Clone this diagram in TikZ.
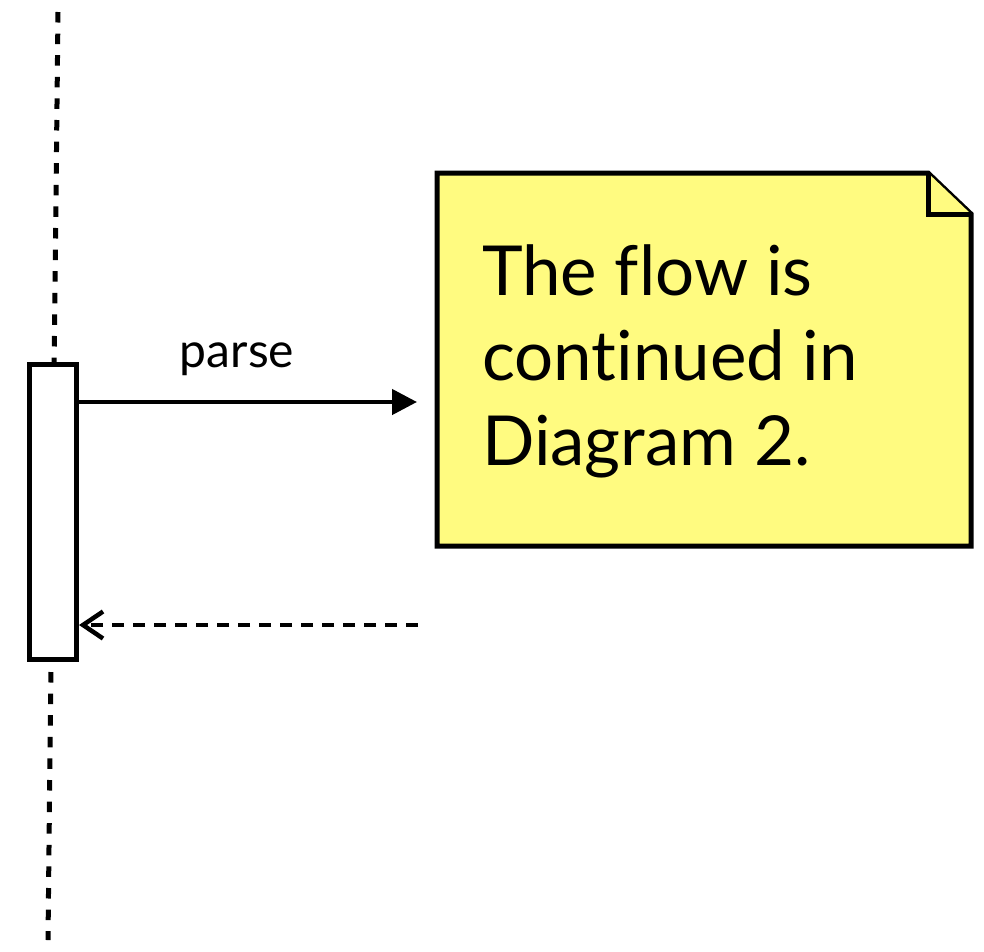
\documentclass[tikz,border=0pt]{standalone}
\usepackage{fontspec}
\setmainfont[Ligatures=NoCommon]{Lato}
\usetikzlibrary{arrows.meta}
\definecolor{noteyellow}{RGB}{255,251,128}
\tikzset{
  lifeline/.style={line width=5pt, dash pattern=on 10.5pt off 11.1pt},
  actbox/.style={draw, line width=5pt, fill=white, inner sep=0pt, minimum width=47pt, minimum height=295pt},
  msg/.style={line width=4.5pt, -{Triangle[length=25pt,width=25pt]}},
  ret/.style={line width=4.5pt, dash pattern=on 12pt off 9pt, -{Straight Barb[length=20pt,width=27pt,line width=4.5pt]}},
  notetext/.style={inner sep=0pt, align=left, font=\fontsize{69}{85}\selectfont},
  lbl/.style={inner sep=0pt, font=\fontsize{48}{56}\selectfont}
}
\begin{document}
\begin{tikzpicture}[x=1pt,y=-1pt]
\useasboundingbox (0,0) rectangle (984,951);
% lifeline
\coordinate (lt) at (58,12);
\coordinate (ltb) at (54.2,362);
\coordinate (lbt) at (50.9,672);
\coordinate (lb) at (48,940);
\draw[lifeline] (lt) -- (ltb);
\draw[lifeline] (lbt) -- (lb);
% activation box
\node[actbox] (act) at (53,512) {};
% note
\coordinate (n1) at (437,173);
\coordinate (n2) at (928,173);
\coordinate (n3) at (971,214);
\coordinate (n4) at (971,546);
\coordinate (n5) at (437,546);
\filldraw[fill=noteyellow, line width=5pt, line join=miter] (n1) -- (n2) -- (n3) -- (n4) -- (n5) -- cycle;
\filldraw[fill=noteyellow, line width=5pt, line join=miter] (n2) -- (928,214) -- (n3);
\node[notetext, anchor=base west] (note) at (482,465) {The flow is\\continued in\\Diagram 2.};
% messages
\coordinate (p1) at (417,402);
\coordinate (r1) at (418,625);
\draw[msg] (act.east |- p1) -- (p1);
\node[lbl, anchor=base] (parse) at (237,367) {parse};
\draw[ret] (r1) -- (act.east |- r1);
\end{tikzpicture}
\end{document}
